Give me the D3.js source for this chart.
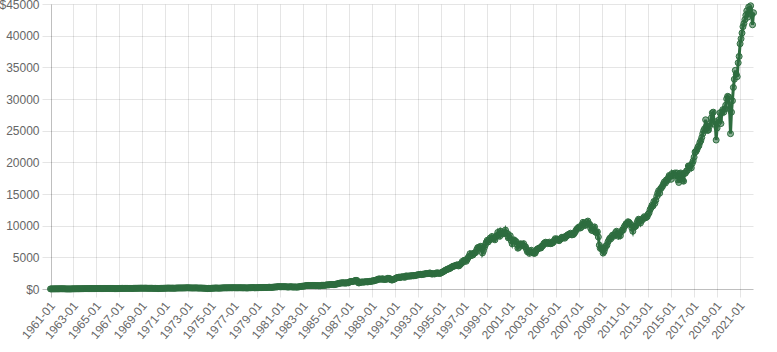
<!DOCTYPE html>
<html>
<head>
<meta charset="utf-8">
<script src="https://cdn.jsdelivr.net/npm/d3@7"></script>
<style>
  body { margin: 0; background: #fff; }
  text { font-family: "Liberation Sans", Arial, sans-serif; font-size: 12px; fill: #666; }
</style>
</head>
<body>
<div id="chart"></div>
<script>
// monthly values, first month 1961-01
const firstYear = 1961;

const vals1960s = [
  92, 95, 97, 98, 99, 100, 103, 105, 103, 106, 110, 114,
  109, 111, 110, 103, 94, 86, 91, 93, 88, 88, 98, 104,
  109, 106, 110, 115, 117, 115, 115, 121, 120, 124, 123, 128,
  131, 133, 135, 136, 138, 140, 143, 141, 145, 146, 146, 149,
  154, 153, 151, 155, 154, 146, 148, 152, 158, 162, 160, 168,
  167, 165, 162, 164, 155, 153, 151, 139, 139, 145, 147, 151,
  163, 164, 171, 178, 170, 173, 180, 179, 185, 180, 181, 187,
  179, 173, 174, 188, 190, 193, 190, 193, 200, 202, 213, 208,
  208, 199, 205, 209, 210, 199, 187, 196, 191, 200, 197, 190
];
const vals1970s = [
  177, 187, 188, 171, 162, 154, 166, 174, 180, 179, 188, 198,
  206, 209, 217, 225, 216, 217, 208, 216, 215, 206, 206, 226,
  230, 237, 239, 241, 246, 241, 242, 251, 251, 253, 266, 269,
  265, 255, 255, 245, 241, 240, 249, 241, 251, 250, 222, 229,
  228, 228, 220, 212, 205, 202, 187, 170, 150, 175, 167, 169,
  191, 203, 207, 217, 228, 238, 222, 218, 211, 224, 231, 231,
  257, 254, 262, 260, 258, 268, 267, 268, 275, 270, 271, 287,
  275, 271, 268, 268, 264, 276, 272, 268, 268, 256, 265, 266,
  250, 245, 251, 273, 277, 273, 288, 298, 297, 268, 275, 283,
  294, 285, 302, 303, 298, 310, 313, 332, 333, 310, 324, 336
];
const vals1980s = [
  356, 358, 324, 338, 356, 370, 394, 399, 410, 417, 462, 445,
  425, 432, 446, 436, 438, 433, 431, 408, 386, 406, 423, 423,
  416, 391, 389, 405, 391, 385, 376, 424, 428, 476, 496, 514,
  532, 550, 570, 615, 612, 632, 614, 624, 634, 626, 645, 630,
  624, 602, 612, 617, 583, 596, 588, 655, 655, 659, 652, 669,
  722, 731, 732, 731, 773, 786, 784, 778, 754, 787, 842, 882,
  889, 956, 1008, 998, 1050, 1068, 1008, 1083, 995, 1048, 1073, 1047,
  1187, 1235, 1269, 1259, 1271, 1335, 1402, 1454, 1423, 1117, 1025, 1102,
  1149, 1200, 1163, 1176, 1185, 1240, 1235, 1193, 1245, 1279, 1262, 1284,
  1378, 1345, 1378, 1450, 1509, 1499, 1635, 1666, 1660, 1622, 1657, 1692
];
const vals1990s = [
  1580, 1600, 1644, 1603, 1758, 1747, 1742, 1585, 1508, 1501, 1598, 1639,
  1711, 1833, 1878, 1882, 1964, 1874, 1962, 2010, 1976, 2003, 1922, 2139,
  2100, 2127, 2085, 2145, 2157, 2125, 2212, 2167, 2193, 2201, 2276, 2301,
  2319, 2351, 2401, 2343, 2406, 2413, 2403, 2494, 2475, 2525, 2501, 2533,
  2619, 2548, 2437, 2468, 2509, 2447, 2528, 2631, 2567, 2624, 2529, 2567,
  2633, 2736, 2817, 2899, 3015, 3085, 3187, 3195, 3330, 3318, 3463, 3532,
  3652, 3686, 3721, 3776, 3873, 3888, 3716, 3794, 4007, 4118, 4429, 4342,
  4613, 4649, 4458, 4724, 5012, 5236, 5653, 5336, 5628, 5440, 5692, 5791,
  5855, 6277, 6598, 6665, 6550, 6816, 6744, 5769, 6139, 6638, 7040, 7446,
  7757, 7515, 7816, 8118, 7927, 8366, 8105, 8065, 7844, 8340, 8510, 9013
];
const vals2000s = [
  8560, 8398, 9220, 8943, 8760, 8976, 8836, 9385, 8889, 8852, 8154, 8193,
  8484, 7711, 7222, 7784, 7836, 7645, 7570, 7096, 6523, 6648, 7158, 7218,
  7113, 6976, 7238, 6799, 6749, 6350, 5950, 6000, 5700, 5950, 6200, 5900,
  5800, 5700, 5750, 6100, 6350, 6450, 6500, 6600, 6550, 6850, 6900, 7236,
  7369, 7471, 7358, 7243, 7342, 7485, 7237, 7266, 7345, 7457, 7759, 8023,
  7828, 7993, 7851, 7702, 7947, 7958, 8254, 8179, 8245, 8107, 8413, 8417,
  8640, 8663, 8771, 8889, 8633, 8645, 8699, 8906, 9136, 9433, 9612, 9746,
  9893, 9700, 9808, 10243, 10601, 10424, 10101, 10253, 10636, 10805, 10354, 10281,
  9664, 9350, 9310, 9764, 9890, 9057, 8981, 9111, 8299, 7000, 6500, 6600,
  6300, 5750, 6000, 6500, 6900, 7000, 7500, 7800, 8100, 8000, 8400, 8600
];
const vals2010s = [
  8400, 8600, 9000, 9200, 8700, 8400, 8800, 8500, 9100, 9400, 9400, 9900,
  10100, 10400, 10400, 10700, 10600, 10400, 10200, 9700, 9200, 9900, 9900, 10000,
  10400, 10800, 11100, 11000, 10500, 10900, 11000, 11300, 11500, 11300, 11400, 11500,
  11900, 12100, 12600, 12900, 13300, 13200, 13900, 13600, 14100, 14700, 15200, 15600,
  15200, 15900, 16100, 16300, 16700, 17000, 16800, 17300, 17200, 17600, 18000, 17900,
  17400, 18300, 18000, 18200, 18400, 18000, 18400, 17300, 16900, 18300, 18400, 18100,
  17200, 17100, 18300, 18400, 18700, 18800, 19500, 19500, 19500, 19200, 19900, 20300,
  20900, 21700, 21800, 22100, 22500, 22700, 23200, 23500, 24000, 24600, 25100, 25400,
  26800, 25800, 25100, 25200, 25800, 26200, 27100, 27900, 28000, 26100, 26500, 23600,
  25500, 26300, 26800, 27900, 26200, 28000, 28400, 28000, 28500, 29100, 30100, 30500
];
const vals2020s = [
  30400, 28500, 24600, 28000, 29800, 31900, 33200, 34600, 34000, 33600, 35800, 36800,
  38800, 39600, 40500, 41500, 42000, 42600, 43300, 44000, 43000, 44600, 44200, 44800,
  43400, 41800, 43700
];

const yTicks = [0, 5000, 10000, 15000, 20000, 25000, 30000, 35000, 40000, 45000];
const xTickLabels = [
  "1961-01", "1963-01", "1965-01", "1967-01", "1969-01", "1971-01", "1973-01", "1975-01",
  "1977-01", "1979-01", "1981-01", "1983-01", "1985-01", "1987-01", "1989-01", "1991-01",
  "1993-01", "1995-01", "1997-01", "1999-01", "2001-01", "2003-01", "2005-01", "2007-01",
  "2009-01", "2011-01", "2013-01", "2015-01", "2017-01", "2019-01", "2021-01"
];

const values = [].concat(vals1960s, vals1970s, vals1980s, vals1990s, vals2000s, vals2010s, vals2020s);
const months = values.map(function(v, i) {
  return (firstYear + Math.floor(i / 12)) + "-" + String(i % 12 + 1).padStart(2, "0");
});
const data = values.map(function(v, i) { return {m: months[i], v: v}; });

const width = 777, height = 352;
const plotL = 50.5, plotR = 753.5, plotT = 4.5, plotB = 289.5;
const green = "#2e6d3f";

const svg = d3.select("#chart")
  .append("svg")
  .attr("width", width)
  .attr("height", height);

const x = d3.scalePoint()
  .domain(months)
  .range([plotL, plotR]);

const y = d3.scaleLinear()
  .domain([0, 45000])
  .range([plotB, plotT]);

// grid: vertical lines at shown labels, horizontal lines at y ticks
svg.append("g")
  .selectAll("line")
  .data(xTickLabels)
  .enter().append("line")
  .attr("x1", d => Math.round(x(d)) + 0.5)
  .attr("x2", d => Math.round(x(d)) + 0.5)
  .attr("y1", plotT)
  .attr("y2", plotB + 8)
  .style("stroke", (d, i) => i === 0 ? "rgba(0,0,0,0.25)" : "rgba(0,0,0,0.1)");

svg.append("g")
  .selectAll("line")
  .data(yTicks)
  .enter().append("line")
  .attr("x1", plotL - 8)
  .attr("x2", plotR)
  .attr("y1", d => Math.round(y(d) - 0.5) + 0.5)
  .attr("y2", d => Math.round(y(d) - 0.5) + 0.5)
  .style("stroke", d => d === 0 ? "rgba(0,0,0,0.25)" : "rgba(0,0,0,0.1)");

svg.append("g")
  .selectAll("text")
  .data(yTicks)
  .enter().append("text")
  .attr("x", plotL - 11)
  .attr("y", d => y(d))
  .attr("dy", "0.35em")
  .attr("text-anchor", "end")
  .text(d => (d === 0 || d === 45000) ? "$" + d : d);

svg.append("g")
  .selectAll("text")
  .data(xTickLabels)
  .enter().append("text")
  .attr("transform", d => "translate(" + (x(d) + 2) + "," + (plotB + 14) + ") rotate(-50)")
  .attr("dy", "0.35em")
  .attr("text-anchor", "end")
  .text(d => d);

const line = d3.line()
  .x(d => x(d.m))
  .y(d => y(d.v));

svg.append("path")
  .datum(data)
  .attr("d", line)
  .style("fill", "none")
  .style("stroke", green)
  .style("stroke-width", "3px");

svg.append("g")
  .selectAll("circle")
  .data(data)
  .enter().append("circle")
  .attr("cx", d => x(d.m))
  .attr("cy", d => y(d.v))
  .attr("r", 3)
  .style("fill", "rgba(46,109,63,0.55)")
  .style("stroke", green)
  .style("stroke-width", "1px");
</script>
</body>
</html>
